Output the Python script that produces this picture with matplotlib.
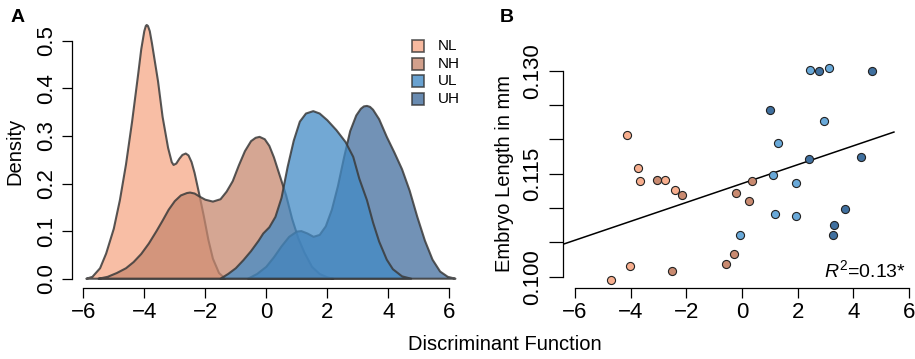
import matplotlib
matplotlib.use("Agg")
import matplotlib.pyplot as plt
from matplotlib.patches import Rectangle
import numpy as np

plt.rcParams['font.family'] = ['Liberation Sans', 'DejaVu Sans']
plt.rcParams['mathtext.fontset'] = 'custom'
plt.rcParams['mathtext.rm'] = 'Liberation Sans'
plt.rcParams['mathtext.it'] = 'Liberation Sans:italic'

# density curves (discriminant score, density)
nl_x = [-5.9, -5.7, -5.45, -5.25, -5.0, -4.8, -4.6, -4.4, -4.2, -4.1, -4.0, -3.95, -3.92,
        -3.88, -3.82, -3.75, -3.55, -3.4, -3.22, -3.1, -3.04, -2.95, -2.85, -2.75, -2.64,
        -2.55, -2.45, -2.35, -2.2, -2.05, -1.9, -1.75, -1.55, -1.35]
nl_d = [0.0, 0.004, 0.022, 0.053, 0.105, 0.165, 0.24, 0.33, 0.43, 0.482, 0.52, 0.531, 0.533,
        0.531, 0.52, 0.495, 0.415, 0.34, 0.275, 0.245, 0.239, 0.242, 0.252, 0.26, 0.263,
        0.259, 0.245, 0.222, 0.178, 0.132, 0.082, 0.042, 0.012, 0.0]

nh_x = [-5.5, -5.2, -4.9, -4.6, -4.35, -4.1, -3.85, -3.6, -3.4, -3.2, -3.0, -2.8, -2.6, -2.5,
        -2.35, -2.2, -2.0, -1.75, -1.5, -1.3, -1.1, -0.9, -0.7, -0.5, -0.35, -0.22, -0.05,
        0.1, 0.25, 0.45, 0.65, 0.85, 1.05, 1.25, 1.5, 1.75, 2.0, 2.2]
nh_d = [0.0, 0.004, 0.012, 0.022, 0.035, 0.052, 0.074, 0.1, 0.122, 0.145, 0.163, 0.175, 0.18,
        0.181, 0.179, 0.173, 0.166, 0.162, 0.167, 0.183, 0.205, 0.238, 0.268, 0.289, 0.296,
        0.298, 0.293, 0.279, 0.255, 0.215, 0.175, 0.125, 0.085, 0.055, 0.025, 0.01, 0.003, 0.0]

ul_x = [-1.5, -1.25, -1.0, -0.75, -0.5, -0.25, -0.1, 0.1, 0.3, 0.5, 0.7, 0.9, 1.1, 1.3, 1.54,
        1.75, 2.0, 2.3, 2.6, 2.85, 3.05, 3.3, 3.5, 3.7, 3.95, 4.15, 4.45, 4.75]
ul_d = [0.0, 0.01, 0.022, 0.039, 0.058, 0.08, 0.095, 0.108, 0.13, 0.17, 0.235, 0.29, 0.33,
        0.347, 0.352, 0.347, 0.333, 0.312, 0.287, 0.256, 0.21, 0.165, 0.118, 0.078, 0.04,
        0.02, 0.005, 0.0]

uh_x = [-0.6, -0.3, 0.0, 0.25, 0.5, 0.75, 1.0, 1.15, 1.35, 1.55, 1.75, 1.95, 2.15, 2.35, 2.55,
        2.75, 2.95, 3.1, 3.2, 3.3, 3.4, 3.5, 3.7, 3.95, 4.2, 4.45, 4.7, 4.95, 5.2, 5.45, 5.7,
        5.95, 6.2]
uh_d = [0.0, 0.01, 0.025, 0.045, 0.068, 0.088, 0.099, 0.1, 0.095, 0.088, 0.092, 0.11, 0.145,
        0.195, 0.255, 0.31, 0.343, 0.357, 0.362, 0.363, 0.361, 0.355, 0.335, 0.298, 0.265,
        0.23, 0.185, 0.13, 0.08, 0.04, 0.015, 0.004, 0.0]

# panel B: discriminant score vs embryo length
nl_px = [-4.12, -3.74, -3.65, -2.78, -2.40, -4.72, -4.03]
nl_py = [0.1207, 0.1159, 0.1139, 0.1141, 0.1127, 0.0995, 0.1015]
nh_px = [-3.04, -2.16, -2.51, -0.56, -0.29, -0.22, 0.26, 0.35]
nh_py = [0.1141, 0.1119, 0.1008, 0.1018, 0.1033, 0.1122, 0.1110, 0.1139]
ul_px = [-0.08, 1.31, 1.11, 1.20, 1.95, 1.95, 2.46, 3.14, 2.95]
ul_py = [0.1061, 0.1194, 0.1148, 0.1091, 0.1136, 0.1089, 0.1301, 0.1304, 0.1227]
uh_px = [1.01, 2.41, 2.76, 4.66, 4.29, 3.69, 3.32, 3.28]
uh_py = [0.1243, 0.1171, 0.1300, 0.1300, 0.1174, 0.1098, 0.1076, 0.1061]
fit_range = [-6.43, 5.46]
r2_text = r"$\mathit{R}^{2}$=0.13*"

groups = ["NL", "NH", "UL", "UH"]
fill_cols = {"NL": "#F6A887", "NH": "#C7886F", "UL": "#438BC6", "UH": "#436E9E"}
pt_cols = {"NL": "#F7AE8E", "NH": "#C98A70", "UL": "#69A9D9", "UH": "#40709F"}

W, H = 915, 359
fig = plt.figure(figsize=(W / 100, H / 100), dpi=100)


def box(l, t, r, b):
    return [l / W, 1 - b / H, (r - l) / W, (b - t) / H]


def style(ax, ylen):
    for s in ["top", "right"]:
        ax.spines[s].set_visible(False)
    for s in ["left", "bottom"]:
        ax.spines[s].set_linewidth(0.9)
    ax.tick_params(axis="x", length=7, width=0.9, labelsize=16, pad=3)
    ax.tick_params(axis="y", length=ylen, width=0.9, labelsize=16, pad=4, labelrotation=90)
    for lab in ax.get_yticklabels():
        lab.set_va("center")


# ---- panel A
axA = fig.add_axes(box(72, 15, 458, 288))
dens = {"NL": (nl_x, nl_d), "NH": (nh_x, nh_d), "UL": (ul_x, ul_d), "UH": (uh_x, uh_d)}
for g in ["NL", "NH", "UH", "UL"]:
    x, d = dens[g]
    axA.fill(x, d, facecolor=fill_cols[g], alpha=0.75, edgecolor="none")
    axA.fill(x, d, facecolor="none", edgecolor="#3a3a3a", lw=1.5, alpha=0.85,
             joinstyle="round")
axA.set_xlim(-6.37, 6.285)
axA.set_ylim(-0.0195, 0.554)
axA.set_xticks(np.arange(-6, 7, 2))
axA.set_yticks([0.0, 0.1, 0.2, 0.3, 0.4, 0.5])
axA.set_yticklabels(["0.0", "0.1", "0.2", "0.3", "0.4", "0.5"])
axA.spines["left"].set_bounds(0, 0.5)
axA.spines["bottom"].set_bounds(-6, 6)
style(axA, 7)
axA.set_ylabel("Density", fontsize=14.5, labelpad=8)

# legend
for i, g in enumerate(groups):
    cy = 46 + i * 17.7
    fig.patches.append(Rectangle((412 / W, 1 - (cy + 6) / H), 12 / W, 12 / H,
                                 transform=fig.transFigure, facecolor=fill_cols[g],
                                 alpha=0.8, edgecolor="#333333", lw=1.2))
    fig.text(438 / W, 1 - cy / H, g, fontsize=11, va="center", ha="left")

# ---- panel B
axB = fig.add_axes(box(563, 59, 915, 288))
for g, xs, ys in [("NL", nl_px, nl_py), ("NH", nh_px, nh_py),
                  ("UL", ul_px, ul_py), ("UH", uh_px, uh_py)]:
    axB.scatter(xs, ys, s=34, facecolor=pt_cols[g], edgecolor="#222222", lw=0.8, zorder=3)
all_x = np.array(nl_px + nh_px + ul_px + uh_px)
all_y = np.array(nl_py + nh_py + ul_py + uh_py)
slope, icpt = np.polyfit(all_x, all_y, 1)
lx = np.array(fit_range)
axB.plot(lx, icpt + slope * lx, color="black", lw=1.1, zorder=2)
axB.set_xlim(-6.431, 6.217)
axB.set_ylim(0.09836, 0.1317)
axB.set_xticks(np.arange(-6, 7, 2))
yt = np.arange(0.100, 0.1301, 0.005)
axB.set_yticks(yt)
axB.set_yticklabels(["0.100", "", "", "0.115", "", "", "0.130"])
axB.spines["left"].set_bounds(0.100, 0.130)
axB.spines["bottom"].set_bounds(-6, 6)
style(axB, 10)
axB.set_ylabel("Embryo Length in mm", fontsize=14.5, labelpad=6)
axB.text(0.975, 0.03, r2_text, transform=axB.transAxes, ha="right", va="bottom", fontsize=14)

fig.text(505 / W, 1 - 345 / H, "Discriminant Function", fontsize=14.5, ha="center", va="center")
fig.text(18 / W, 1 - 18 / H, "A", fontsize=14, fontweight="bold", ha="center", va="center")
fig.text(507 / W, 1 - 18 / H, "B", fontsize=14, fontweight="bold", ha="center", va="center")

fig.savefig("out.png", dpi=100)
